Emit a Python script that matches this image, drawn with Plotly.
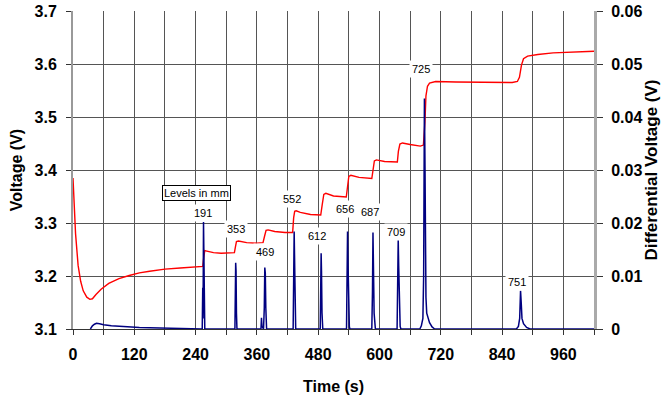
import plotly.graph_objects as go

# Cell voltage (left axis) versus time
time_v = [0, 2, 5, 10, 15, 20, 27, 33, 38, 45, 55, 70, 90, 110, 130, 150, 180, 210, 240, 254,
          256, 258, 262, 275, 290, 305, 316,
          318, 320, 324, 340, 360, 372,
          375, 378, 382, 395, 415, 430,
          432, 434, 437, 445, 465, 485,
          488, 491, 495, 510, 535,
          537, 540, 544, 560, 585,
          587, 590, 594, 610, 635,
          637, 640, 645, 660, 680, 686,
          689, 691, 694, 698, 710, 750, 800, 860, 870,
          874, 878, 882, 890, 910, 940, 980, 1020]
voltage = [3.385, 3.34, 3.28, 3.22, 3.19, 3.172, 3.16, 3.156, 3.157, 3.165, 3.175, 3.186, 3.195,
           3.201, 3.206, 3.209, 3.213, 3.215, 3.217, 3.218,
           3.235, 3.248, 3.247, 3.244, 3.243, 3.243, 3.244,
           3.255, 3.265, 3.266, 3.263, 3.262, 3.263,
           3.275, 3.286, 3.287, 3.284, 3.282, 3.282,
           3.31, 3.322, 3.323, 3.320, 3.316, 3.315,
           3.335, 3.354, 3.356, 3.351, 3.349,
           3.37, 3.388, 3.39, 3.386, 3.384,
           3.40, 3.417, 3.419, 3.416, 3.415,
           3.435, 3.449, 3.451, 3.448, 3.445, 3.447,
           3.49, 3.54, 3.558, 3.564, 3.567, 3.566, 3.565, 3.565, 3.567,
           3.575, 3.598, 3.61, 3.615, 3.618, 3.621, 3.623, 3.624]

# Differential voltage (right axis) versus time
time_d = [34, 38, 42, 46, 52, 60, 75, 90, 105, 130, 170, 200, 240, 253,
          254, 254.6, 255.5, 256.3, 257, 258,
          317, 318, 318.5, 319.2, 320, 321,
          368, 369, 370, 373, 374.5, 375.5, 376.5, 377.5, 379,
          431, 432, 433, 434, 434.8, 436,
          484, 485, 485.8, 486.5, 487.5, 489,
          535.5, 536.5, 537.5, 538.5, 539.5, 541, 542,
          585, 586.3, 587.3, 588.2, 589.5, 591, 592,
          634.5, 635.5, 636.7, 637.6, 638.8, 640.5, 642,
          679, 682, 685, 686.5, 688, 689.2, 690, 691, 692.5, 695, 698, 703, 708,
          868, 872, 874.5, 876.2, 877.5, 879, 882, 888, 895, 1020]
diff_v = [0.0, 0.0006, 0.0009, 0.00107, 0.001, 0.0008, 0.0006, 0.0005, 0.0004, 0.0003, 0.0002,
          0.0001, 0.0, 0.0,
          0.0078, 0.002, 0.0202, 0.009, 0.0005, 0.0,
          0.0, 0.006, 0.0125, 0.011, 0.003, 0.0,
          0.0, 0.0021, 0.0005, 0.0, 0.004, 0.0116, 0.0105, 0.004, 0.0,
          0.0, 0.008, 0.0184, 0.012, 0.004, 0.0,
          0.0, 0.007, 0.0143, 0.011, 0.003, 0.0,
          0.0, 0.006, 0.0184, 0.012, 0.004, 0.0005, 0.0,
          0.0, 0.007, 0.0182, 0.012, 0.003, 0.0008, 0.0,
          0.0, 0.006, 0.0169, 0.012, 0.003, 0.0005, 0.0,
          0.0, 0.0006, 0.002, 0.01, 0.0435, 0.03, 0.015, 0.006, 0.003, 0.0023, 0.0012, 0.0004, 0.0,
          0.0, 0.0005, 0.002, 0.0072, 0.005, 0.002, 0.001, 0.0003, 0.0, 0.0]

# Level labels (mm) and where they sit on the time / differential-voltage axes
level_text = ["191", "353", "469", "552", "612", "656", "687", "709", "725", "751"]
level_t = [254.5, 319, 376, 429, 478, 532.5, 581.4, 631.8, 681.3, 869.8]
level_dv = [0.0219, 0.0189, 0.01447, 0.0245, 0.01755, 0.0226, 0.022, 0.01825, 0.049, 0.0088]

FONT = "Arial, Liberation Sans, sans-serif"
GRID = "#555555"

fig = go.Figure()
fig.add_trace(go.Scatter(x=time_v, y=voltage, mode="lines",
                         line=dict(color="#ff0000", width=1.4), yaxis="y"))
fig.add_trace(go.Scatter(x=time_d, y=diff_v, mode="lines",
                         line=dict(color="#000080", width=1.5), yaxis="y2"))

annotations = []
for txt, t, dv in zip(level_text, level_t, level_dv):
    annotations.append(dict(x=t, y=dv, xref="x", yref="y2", text=txt, showarrow=False,
                            font=dict(family=FONT, size=11, color="#000"),
                            bgcolor="white", borderpad=2))
annotations.append(dict(x=240.8, y=0.02566, xref="x", yref="y2", text="Levels in mm",
                        showarrow=False, font=dict(family=FONT, size=11, color="#000"),
                        bgcolor="white", bordercolor="#000", borderwidth=1, borderpad=1))

tick_font = dict(family=FONT, size=16, color="#000", weight="bold")
title_font = dict(family=FONT, size=16, color="#000", weight="bold")

fig.update_layout(
    width=665, height=397,
    margin=dict(l=73, r=71, t=11, b=68, autoexpand=False),
    paper_bgcolor="white", plot_bgcolor="white",
    showlegend=False,
    annotations=annotations,
    xaxis=dict(range=[0, 1020], tickmode="linear", tick0=0, dtick=120,
               showgrid=True, gridcolor=GRID, gridwidth=1,
               ticks="outside", ticklen=5, tickcolor="#333",
               minor=dict(dtick=60, showgrid=True, gridcolor=GRID, gridwidth=1,
                          ticks="outside", ticklen=5, tickcolor="#333"),
               showline=True, linecolor="#333", linewidth=1, automargin=False,
               zeroline=False, tickfont=tick_font, ticklabelstandoff=6,
               title=dict(text="Time (s)", font=title_font, standoff=18)),
    yaxis=dict(range=[3.1, 3.7], tickmode="linear", tick0=3.1, dtick=0.1,
               tickformat=".1f",
               showgrid=True, gridcolor=GRID, gridwidth=1,
               ticks="outside", ticklen=5, tickcolor="#333",
               showline=True, linecolor="#999", linewidth=2, automargin=False,
               zeroline=False, tickfont=tick_font, ticklabelstandoff=6,
               title=dict(text="Voltage (V)", font=title_font, standoff=8)),
    yaxis2=dict(range=[0, 0.06], tickmode="linear", tick0=0, dtick=0.01,
                overlaying="y", side="right", showgrid=False,
                ticks="outside", ticklen=6, tickcolor="#333",
                showline=True, linecolor="#aaa", linewidth=3, automargin=False,
                zeroline=False, tickfont=tick_font, ticklabelstandoff=5,
                tickvals=[0, 0.01, 0.02, 0.03, 0.04, 0.05, 0.06],
                ticktext=["0", "0.01", "0.02", "0.03", "0.04", "0.05", "0.06"],
                title=dict(text="Differential Voltage (V)", font=dict(family=FONT, size=17,
                                                                       color="#000", weight="bold"),
                           standoff=2)),
)

fig.write_html("out.html")
